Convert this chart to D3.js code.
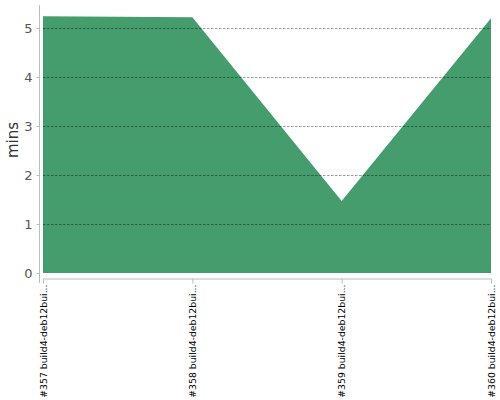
<!DOCTYPE html>
<html>
<head>
<meta charset="utf-8">
<script src="https://cdn.jsdelivr.net/npm/d3@7.9.0/dist/d3.min.js"></script>
<style>
  body { margin: 0; background: #fff; }
  svg { display: block; font-family: "DejaVu Sans", sans-serif; }
</style>
</head>
<body>
<svg width="500" height="400"></svg>
<script>
// build labels and durations (minutes)
const builds = ['#357 build4-deb12bui...', '#358 build4-deb12bui...', '#359 build4-deb12bui...', '#360 build4-deb12bui...'];
const minutes = [5.24, 5.22, 1.47, 5.2];
const yTicks = [0, 1, 2, 3, 4, 5];

const svg = d3.select('svg');
const plotLeft = 43, plotRight = 491, plotTop = 28, plotBottom = 273;

let x = d3.scalePoint().domain(builds).range([plotLeft, plotRight]);
let y = d3.scaleLinear().domain([0, 5]).range([plotBottom, plotTop]);

// area
let area = d3.area()
  .x((d, i) => x(builds[i]))
  .y0(y(0))
  .y1(d => y(d));
svg.append('path')
  .datum(minutes)
  .attr('d', area)
  .attr('fill', '#459d6d');

// dashed grid on top
svg.append('g')
  .selectAll('line')
  .data(yTicks.filter(t => t > 0))
  .join('line')
  .attr('x1', plotLeft).attr('x2', plotRight)
  .attr('y1', d => y(d) + 0.5).attr('y2', d => y(d) + 0.5)
  .attr('stroke', 'rgba(0,0,0,0.4)')
  .attr('stroke-dasharray', '2.5,1.5');

// y axis
let yAxis = svg.append('g')
  .attr('transform', 'translate(39.5,0)')
  .call(d3.axisLeft(y).tickValues(yTicks).tickFormat(d3.format('d')).tickSize(3).tickPadding(4))
  .attr('font-family', '"DejaVu Sans", sans-serif');
yAxis.select('.domain').attr('d', 'M0,5V283').attr('stroke', '#bbb');
yAxis.selectAll('.tick line').attr('stroke', '#bbb');
yAxis.selectAll('text').attr('fill', '#555').style('font-size', '13px');

svg.append('text')
  .attr('transform', 'translate(18,140) rotate(-90)')
  .attr('text-anchor', 'middle')
  .attr('fill', '#333')
  .style('font-size', '15px')
  .text('mins');

// x axis
let xAxis = svg.append('g')
  .attr('transform', 'translate(0,278.5)')
  .call(d3.axisBottom(x).tickSize(5).tickSizeOuter(0))
  .attr('font-family', '"DejaVu Sans", sans-serif');
xAxis.select('.domain').attr('stroke', '#bbb');
xAxis.selectAll('.tick line').attr('stroke', '#bbb');
xAxis.selectAll('text')
  .attr('transform', 'rotate(-90)')
  .attr('text-anchor', 'end')
  .attr('x', -6).attr('y', 0).attr('dy', '0.35em')
  .attr('fill', '#000')
  .style('font-size', '9.3px');
</script>
</body>
</html>
